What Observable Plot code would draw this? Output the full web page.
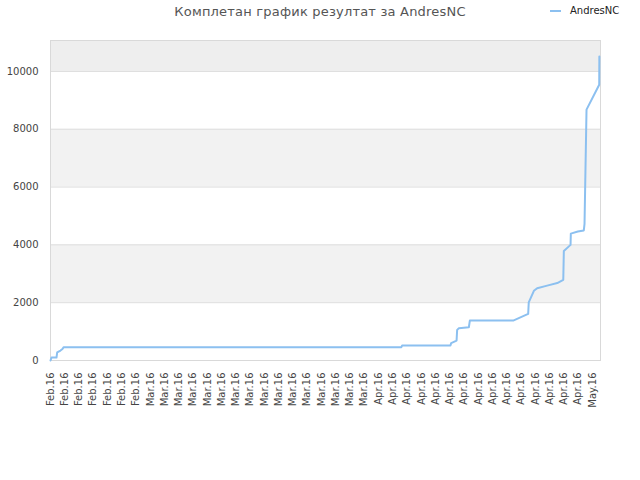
<!DOCTYPE html>
<html>
<head>
<meta charset="utf-8">
<script src="https://cdn.jsdelivr.net/npm/d3@7"></script>
<script src="https://cdn.jsdelivr.net/npm/@observablehq/plot@0.6"></script>
<style>
  html, body { margin: 0; padding: 0; background: #fff; }
  #wrap { position: relative; width: 640px; height: 480px; font-family: "DejaVu Sans", sans-serif; }
  #title { position: absolute; left: 0; width: 640px; top: 4px; text-align: center; font-size: 13px; color: #555; letter-spacing: 0.2px; }
  #legend { position: absolute; left: 550px; top: 5px; font-size: 10px; color: #222; display: flex; align-items: center; }
  #legend .sw { width: 11px; height: 2px; background: #8cc0f0; margin-right: 9px; }
</style>
</head>
<body>
<div id="wrap">
  <div id="title">Комплетан график резултат за AndresNC</div>
  <div id="legend"><span class="sw"></span><span>AndresNC</span></div>
  <div id="chart"></div>
</div>
<script>
// Series (x = game index, y = score)
const seriesName = "AndresNC";
const xs = [0, 0.7, 4.2, 4.7, 7, 8.4, 9.3, 246, 246.5, 280.4, 280.9, 284.7, 285.1, 286.3, 293.3, 294, 324.4, 334.9, 335.3, 338.9, 341.2, 348.2, 355.3, 359.5, 359.9, 364.6, 364.8, 369.7, 373.9, 374.4, 375.8, 384.7, 384.8];
const ys = [0, 100, 100, 280, 345, 400, 460, 460, 517, 517, 600, 690, 1060, 1115, 1150, 1380, 1380, 1610, 2010, 2410, 2500, 2590, 2680, 2790, 3790, 4000, 4390, 4460, 4500, 4730, 8680, 9540, 10520];

// X tick labels (one every 10 games)
const xLabels = [
  "Feb.16","Feb.16","Feb.16","Feb.16","Feb.16","Feb.16","Feb.16",
  "Mar.16","Mar.16","Mar.16","Mar.16","Mar.16","Mar.16","Mar.16","Mar.16","Mar.16","Mar.16","Mar.16","Mar.16","Mar.16","Mar.16","Mar.16","Mar.16",
  "Apr.16","Apr.16","Apr.16","Apr.16","Apr.16","Apr.16","Apr.16","Apr.16","Apr.16","Apr.16","Apr.16","Apr.16","Apr.16","Apr.16","Apr.16",
  "May.16"
];
const xTickStep = 10;
const xMax = 385.6;

// Y axis
const yTicks = [0, 2000, 4000, 6000, 8000, 10000];
const yMax = 11070;
const bandLo = [2000, 6000, 10000];
const bandHi = [4000, 8000, 11070];
const bandFill = ["#f2f2f2", "#f2f2f2", "#eeeeee"];

const data = xs.map((x, i) => ({x, y: ys[i]}));
const bands = bandLo.map((lo, i) => ({lo, hi: bandHi[i], fill: bandFill[i]}));
const xTicks = xLabels.map((_, i) => i * xTickStep);

const chart = Plot.plot({
  width: 640,
  height: 480,
  marginTop: 40,
  marginBottom: 120,
  marginLeft: 50,
  marginRight: 40,
  style: { fontFamily: "DejaVu Sans", fontSize: "10px", color: "#444", background: "transparent" },
  x: { domain: [0, xMax] },
  y: { domain: [0, yMax] },
  marks: [
    Plot.rectY(bands, { x1: 0, x2: xMax, y1: "lo", y2: "hi", fill: "fill" }),
    Plot.ruleY(yTicks.slice(1), { stroke: "#dddddd" }),
    Plot.frame({ stroke: "#d9d9d9" }),
    Plot.axisY({ ticks: yTicks, tickSize: 0, tickPadding: 12, tickFormat: d3.format("d"), label: null }),
    Plot.axisX({ ticks: xTicks, tickSize: 0, tickPadding: 12, tickRotate: -90, tickFormat: d => xLabels[Math.round(d / xTickStep)], label: null }),
    Plot.line(data, { x: "x", y: "y", stroke: "#8cc0f0", strokeWidth: 2 })
  ]
});
document.getElementById("chart").appendChild(chart);
</script>
</body>
</html>
